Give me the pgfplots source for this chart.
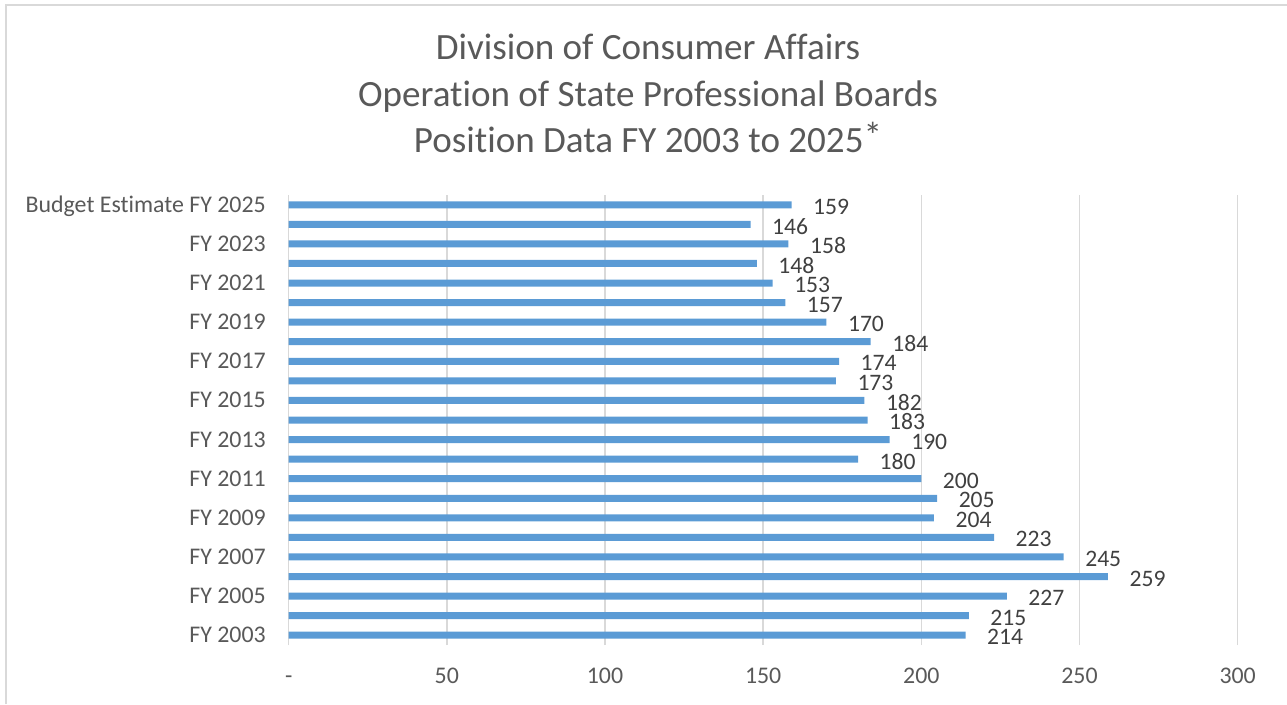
\documentclass[border=0pt]{standalone}
\usepackage{pgfplots}
\pgfplotsset{compat=1.18}
\usepackage{fontspec}
\setmainfont{Carlito}[Ligatures=NoCommon]
\definecolor{barblue}{HTML}{5B9BD5}
\definecolor{gridgray}{HTML}{D9D9D9}
\definecolor{ticktext}{HTML}{595959}
\definecolor{labeltext}{HTML}{404040}
\begin{document}
\begin{tikzpicture}
\path[use as bounding box] (0,0) rectangle (965.25pt,528pt);
\draw[gridgray, line width=1.5pt] (4.8pt,0) -- (4.8pt,524.5pt) -- (965.25pt,524.5pt);
\node[anchor=base, text=ticktext, font=\fontsize{27.8}{33}\selectfont] at (486pt,483pt) {Division of Consumer Affairs};
\node[anchor=base, text=ticktext, font=\fontsize{27.8}{33}\selectfont] at (486pt,447.75pt) {Operation of State Professional Boards};
\node[anchor=base, text=ticktext, font=\fontsize{27.8}{33}\selectfont] at (486pt,413.25pt) {Position Data FY 2003 to 2025\raisebox{0.12em}{*}};
\begin{axis}[
  at={(216.5pt,44.25pt)}, anchor=south west,
  scale only axis, width=711.75pt, height=337.5pt,
  xmin=0, xmax=300, ymin=-0.5, ymax=22.5,
  xbar, bar width=5.25pt,
  axis line style={draw=none},
  xtick={0,50,100,150,200,250,300},
  xticklabels={-,50,100,150,200,250,300},
  ytick={0,2,4,6,8,10,12,14,16,18,20,22},
  yticklabels={FY 2003,FY 2005,FY 2007,FY 2009,FY 2011,FY 2013,FY 2015,FY 2017,FY 2019,FY 2021,FY 2023,Budget Estimate FY 2025},
  major tick length=0pt,
  xmajorgrids, ymajorgrids=false,
  major grid style={gridgray, line width=1.1pt},
  /pgf/number format/assume math mode=true,
  tick label style={text=ticktext, font=\fontsize{17.9}{21}\selectfont},
  xticklabel style={anchor=base, inner sep=0pt, yshift=-28.5pt},
  yticklabel style={anchor=base east, inner sep=0pt, xshift=-17pt, yshift=-5.6pt},
  nodes near coords,
  nodes near coords style={anchor=west, inner sep=0pt, xshift=16pt, yshift=-1.5pt, text=labeltext, font=\fontsize{17.7}{21}\selectfont},
  clip=false,
]
\addplot[fill=barblue, draw=none] coordinates {
(214,0) (215,1) (227,2) (259,3) (245,4) (223,5) (204,6) (205,7) (200,8) (180,9) (190,10) (183,11)
(182,12) (173,13) (174,14) (184,15) (170,16) (157,17) (153,18) (148,19) (158,20) (146,21) (159,22)
};
\end{axis}
\end{tikzpicture}
\end{document}
